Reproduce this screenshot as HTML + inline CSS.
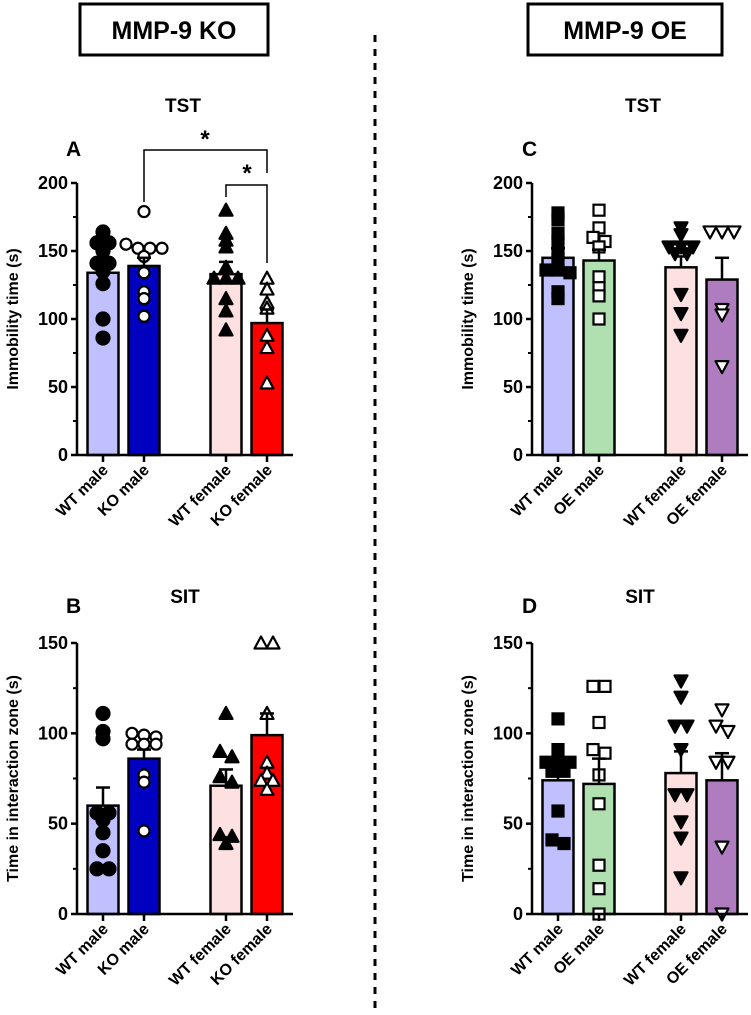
<!DOCTYPE html>
<html><head><meta charset="utf-8"><style>
body{margin:0;background:#fff;}
svg{display:block;font-family:"Liberation Sans",Arial,sans-serif;font-weight:bold;}
</style></head><body>
<svg id="fig" width="751" height="1015" viewBox="0 0 751 1015">
<rect x="80" y="4" width="188" height="51" fill="none" stroke="#000" stroke-width="3"/>
<text x="174" y="39" text-anchor="middle" font-size="25">MMP-9 KO</text>
<rect x="528" y="4" width="194" height="51" fill="none" stroke="#000" stroke-width="3"/>
<text x="625" y="39" text-anchor="middle" font-size="25">MMP-9 OE</text>
<line x1="375" y1="35" x2="375" y2="1015" stroke="#000" stroke-width="3" stroke-dasharray="7,7"/>
<text x="183" y="112" text-anchor="middle" font-size="19">TST</text>
<text x="643" y="112" text-anchor="middle" font-size="19">TST</text>
<text x="185" y="603" text-anchor="middle" font-size="19">SIT</text>
<text x="640" y="603" text-anchor="middle" font-size="19">SIT</text>
<text x="66" y="156" font-size="21">A</text>
<text x="522" y="156" font-size="21">C</text>
<text x="66" y="613" font-size="21">B</text>
<text x="522" y="613" font-size="21">D</text>
<g id="plots"></g>
</svg>
<script>
const catsKO = ["WT male","KO male","WT female","KO female"];
const catsOE = ["WT male","OE male","WT female","OE female"];
const aMeans = [134,139,133,97];
const aSem = [8,6,9,10];
const aPts = [[164,156,156,150,141,141,135,126,100,86],[179,155,152,152,152,146,134,120,115,102],[180,163,158,153,138,130,130,130,115,106,92],[130,122,112,108,88,79,53]];
const cMeans = [145,143,138,129];
const cSem = [7,8,8,16];
const cPts = [[178,173,163,157,148,144,136,136,134,120,115],[180,167,160,157,153,131,123,117,100],[167,162,153,153,153,148,148,118,104,88],[164,164,164,107,103,65]];
const bMeans = [60,86,71,99];
const bSem = [10,5,9,12];
const bPts = [[111,101,97,56,56,52,45,35,25,25],[100,99,98,94,94,94,77,73,46],[111,90,87,76,73,44,43,39],[150,150,111,84,78,74,74,69]];
const dMeans = [74,72,78,74];
const dSem = [7,14,12,15];
const dPts = [[108,91,84,84,84,79,79,57,41,39],[126,126,106,91,89,77,61,27,14,0],[129,120,104,104,91,66,66,51,42,20],[113,104,101,84,84,37,0]];
const ticksTST = [0,50,100,150,200];
const ticksSIT = [0,50,100,150];

const NS="http://www.w3.org/2000/svg";
const root=document.getElementById('plots');
function mk(tag,attrs,parent){const e=document.createElementNS(NS,tag);for(const k in attrs)e.setAttribute(k,attrs[k]);(parent||root).appendChild(e);return e;}

function panel(o){
  const g=mk('g',{});
  
  
  const ax=o.axisX, y0=o.y0, yTop=o.yTop, max=o.max;
  const Y=v=>y0-(v/max)*(y0-yTop);
  const centers=o.offs.map(d=>ax+d);
  const bw=31;
  o.means.forEach((m,i)=>{
    const r=mk('rect',{x:centers[i]-bw/2,y:Y(m),width:bw,height:y0-Y(m),fill:o.colors[i],stroke:'#000','stroke-width':2.5},g);
    
    
  });
  o.pts.forEach((arr,i)=>{
    const shape=o.shapes[i];
    arr.forEach((v,j)=>{
      const n=arr.filter((w,k)=>k<j&&Math.abs(w-v)<4).length;
      const tot=arr.filter(w=>Math.abs(w-v)<4).length;
      const dx=(n-(tot-1)/2)*12;
      const cx=centers[i]+dx, cy=Y(v);
      const fill=o.filled[i]?'#000':'#fff';
      let e;
      if(shape==='circle') e=mk('circle',{cx,cy,r:o.filled[i]?6.5:5.5,fill,stroke:'#000','stroke-width':2.2},g);
      else if(shape==='square') e=mk('rect',{x:cx-5.5,y:cy-5.5,width:11,height:11,fill,stroke:'#000','stroke-width':2.2},g);
      else {
        const s=shape==='up'?1:-1;
        e=mk('polygon',{points:`${cx},${cy-6.5*s} ${cx-6.5},${cy+5.5*s} ${cx+6.5},${cy+5.5*s}`,fill,stroke:'#000','stroke-width':2.2,'stroke-linejoin':'round'},g);
      }
      
      
    });
  });
  o.means.forEach((m,i)=>{
    const t=Y(m+o.sem[i]);
    mk('line',{x1:centers[i],y1:Y(m),x2:centers[i],y2:t,stroke:'#000','stroke-width':2.5},g);
    mk('line',{x1:centers[i]-7,y1:t,x2:centers[i]+7,y2:t,stroke:'#000','stroke-width':2.5},g);
  });
  const xa=mk('line',{x1:ax,y1:y0,x2:ax+216,y2:y0,stroke:'#000','stroke-width':2.5},g);
  
  const ya=mk('line',{x1:ax,y1:y0+1,x2:ax,y2:yTop,stroke:'#000','stroke-width':2.5},g);
  
  o.ticks.forEach((t,i)=>{
    mk('line',{x1:ax-6,y1:Y(t),x2:ax,y2:Y(t),stroke:'#000','stroke-width':2.5},g);
    if(i>0){const h=(t+o.ticks[i-1])/2;mk('line',{x1:ax-4,y1:Y(h),x2:ax,y2:Y(h),stroke:'#000','stroke-width':2},g);}
    const tl=mk('text',{x:ax-9,y:Y(t)+6,'text-anchor':'end','font-size':18},g);
    tl.textContent=t;
    
  });
  centers.forEach((c,i)=>{
    mk('line',{x1:c,y1:y0,x2:c,y2:y0+7,stroke:'#000','stroke-width':2.5},g);
    const tl=mk('text',{x:0,y:0,'text-anchor':'end','font-size':16,transform:`translate(${c+6},${y0+16}) rotate(-45)`},g);
    tl.textContent=o.cats[i];
    
  });
  const yt=mk('text',{x:0,y:0,'text-anchor':'middle','font-size':16,transform:`translate(${ax-59},${(y0+yTop)/2}) rotate(-90)`},g);
  yt.textContent=o.ytitle;
  
  return {g,centers,Y};
}
const offs=[26,67,149,190];
const koColors=['#c0c0ff','#0000c0','#fde0e0','#ff0000'];
const oeColors=['#c0c0ff','#b0e0b0','#fde0e0','#b07cc0'];
const A=panel({name:'panel-a',axisX:77,y0:455,yTop:183,max:200,ticks:ticksTST,offs,cats:catsKO,means:aMeans,sem:aSem,pts:aPts,colors:koColors,filled:[1,0,1,0],shapes:['circle','circle','up','up'],ytitle:'Immobility time (s)'});
const br=mk('g',{});


mk('polyline',{points:`${A.centers[1]},202 ${A.centers[1]},150 ${A.centers[3]},150 ${A.centers[3]},173`,fill:'none',stroke:'#000','stroke-width':1.5},br);
mk('polyline',{points:`${A.centers[2]},197 ${A.centers[2]},185 ${A.centers[3]},185 ${A.centers[3]},263`,fill:'none',stroke:'#000','stroke-width':1.5},br);
const s1=mk('text',{x:205,y:147,'text-anchor':'middle','font-size':24},br);s1.textContent='*';
const s2=mk('text',{x:247,y:181,'text-anchor':'middle','font-size':24},br);s2.textContent='*';

panel({name:'panel-b',axisX:77,y0:914,yTop:643,max:150,ticks:ticksSIT,offs,cats:catsKO,means:bMeans,sem:bSem,pts:bPts,colors:koColors,filled:[1,0,1,0],shapes:['circle','circle','up','up'],ytitle:'Time in interaction zone (s)'});
panel({name:'panel-c',axisX:532,y0:455,yTop:183,max:200,ticks:ticksTST,offs,cats:catsOE,means:cMeans,sem:cSem,pts:cPts,colors:oeColors,filled:[1,0,1,0],shapes:['square','square','down','down'],ytitle:'Immobility time (s)'});
panel({name:'panel-d',axisX:532,y0:914,yTop:643,max:150,ticks:ticksSIT,offs,cats:catsOE,means:dMeans,sem:dSem,pts:dPts,colors:oeColors,filled:[1,0,1,0],shapes:['square','square','down','down'],ytitle:'Time in interaction zone (s)'});
</script>
</body></html>
